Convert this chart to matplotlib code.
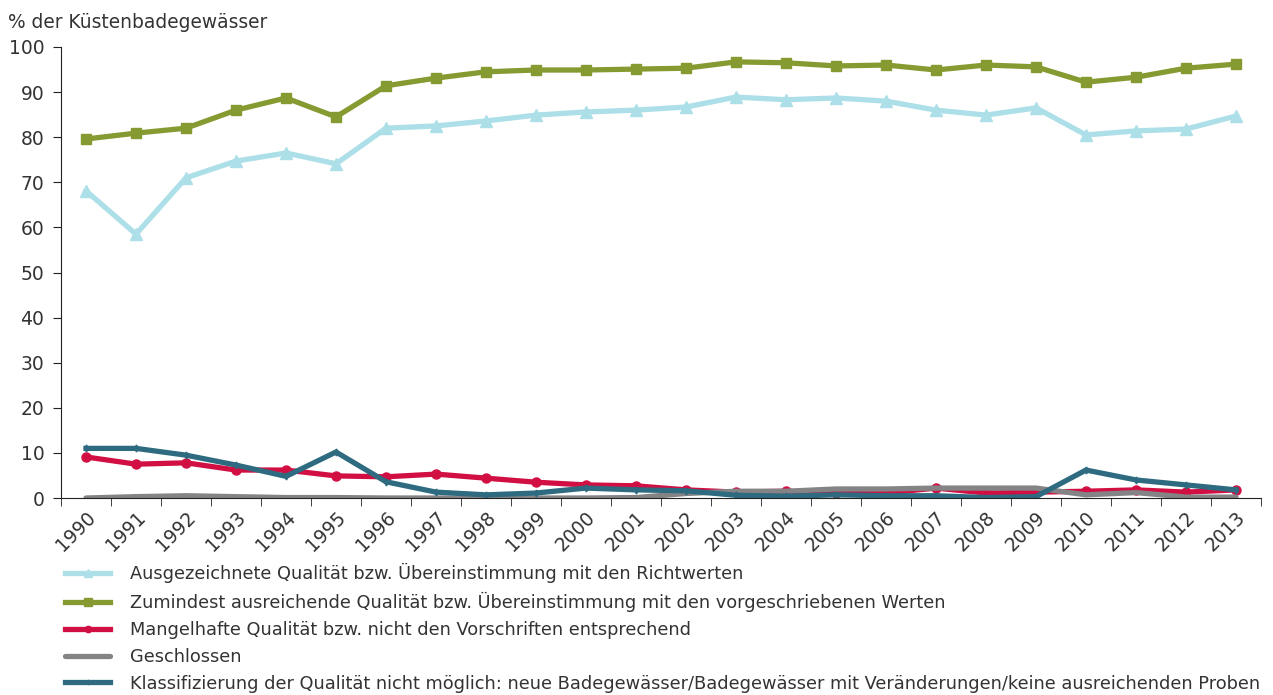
import numpy as np
import matplotlib.pyplot as plt
from matplotlib.ticker import FixedLocator

years = list(range(1990, 2014))

ausgezeichnet = [68.1, 58.5, 71.0, 74.7, 76.5, 74.1, 82.0, 82.5, 83.6, 84.9, 85.6, 86.0,
                 86.7, 88.9, 88.3, 88.7, 88.0, 86.0, 84.9, 86.5, 80.5, 81.4, 81.8, 84.7]
ausreichend = [79.6, 80.9, 82.0, 86.0, 88.7, 84.5, 91.4, 93.1, 94.5, 94.9, 94.9, 95.1,
               95.3, 96.7, 96.5, 95.8, 96.0, 94.9, 96.0, 95.6, 92.2, 93.3, 95.3, 96.2]
mangelhaft = [9.1, 7.5, 7.8, 6.2, 6.2, 4.9, 4.7, 5.3, 4.4, 3.5, 2.9, 2.7,
              1.8, 1.3, 1.5, 1.1, 1.1, 2.2, 1.1, 1.3, 1.5, 1.8, 1.3, 1.8]
geschlossen = [0.0, 0.3, 0.5, 0.3, 0.1, 0.1, 0.0, 0.0, 0.0, 0.0, 0.0, 0.1,
               1.0, 1.5, 1.5, 2.0, 2.0, 2.2, 2.2, 2.2, 0.7, 1.2, 0.2, 0.2]
nicht_moeglich = [11.0, 11.0, 9.5, 7.3, 4.8, 10.2, 3.6, 1.3, 0.7, 1.1, 2.2, 1.8,
                  1.6, 0.6, 0.4, 0.7, 0.5, 0.5, 0.1, 0.3, 6.2, 4.0, 2.9, 1.8]

labels = [
    "Ausgezeichnete Qualität bzw. Übereinstimmung mit den Richtwerten",
    "Zumindest ausreichende Qualität bzw. Übereinstimmung mit den vorgeschriebenen Werten",
    "Mangelhafte Qualität bzw. nicht den Vorschriften entsprechend",
    "Geschlossen",
    "Klassifizierung der Qualität nicht möglich: neue Badegewässer/Badegewässer mit Veränderungen/keine ausreichenden Proben",
]

plt.rcParams['font.family'] = ['DejaVu Sans']
txt = '#333333'
fs = 13.5

fig = plt.figure(figsize=(12.73, 6.95), dpi=100)
ax = fig.add_axes([61 / 1273, 1 - 498 / 695, 1200 / 1273, 451 / 695])

lw = 3.8
ax.plot(years, ausgezeichnet, color='#acdfe8', lw=lw, marker='^', ms=8, label=labels[0])
ax.plot(years, ausreichend, color='#869a32', lw=lw, marker='s', ms=7.5, label=labels[1])
ax.plot(years, mangelhaft, color='#d20f43', lw=lw, marker='o', ms=6.5, label=labels[2])
ax.plot(years, geschlossen, color='#848487', lw=lw, label=labels[3], solid_capstyle='round')
ax.plot(years, nicht_moeglich, color='#2e6b80', lw=lw, marker='d', ms=3.5, label=labels[4])

ax.set_xlim(1989.5, 2013.5)
ax.set_ylim(0, 100)
ax.set_yticks(range(0, 101, 10))
ax.set_xticks(years)
ax.set_xticklabels([str(y) for y in years], rotation=45, ha='right',
                   rotation_mode='anchor', fontsize=fs, color=txt)
ax.xaxis.set_minor_locator(FixedLocator(np.arange(1989.5, 2014, 1)))
ax.tick_params(axis='x', which='major', length=0, pad=7)
ax.tick_params(axis='x', which='minor', length=6, color='#222222')
ax.tick_params(axis='y', length=6, pad=6, labelsize=fs, labelcolor=txt, color='#222222')
for s in ['top', 'right']:
    ax.spines[s].set_visible(False)
for s in ['left', 'bottom']:
    ax.spines[s].set_color('#222222')

fig.text(8 / 1273, 1 - 22 / 695, "% der Küstenbadegewässer", fontsize=13.4,
         color=txt, va='center', ha='left')

leg = fig.legend(loc='upper left', bbox_to_anchor=(65 / 1273, 1 - 563 / 695),
                 frameon=False, fontsize=12.8, handlelength=2.55, handletextpad=1.1,
                 labelspacing=0.5, borderpad=0, borderaxespad=0, markerscale=0.7)
for t in leg.get_texts():
    t.set_color(txt)

fig.savefig('out.png', dpi=100)
